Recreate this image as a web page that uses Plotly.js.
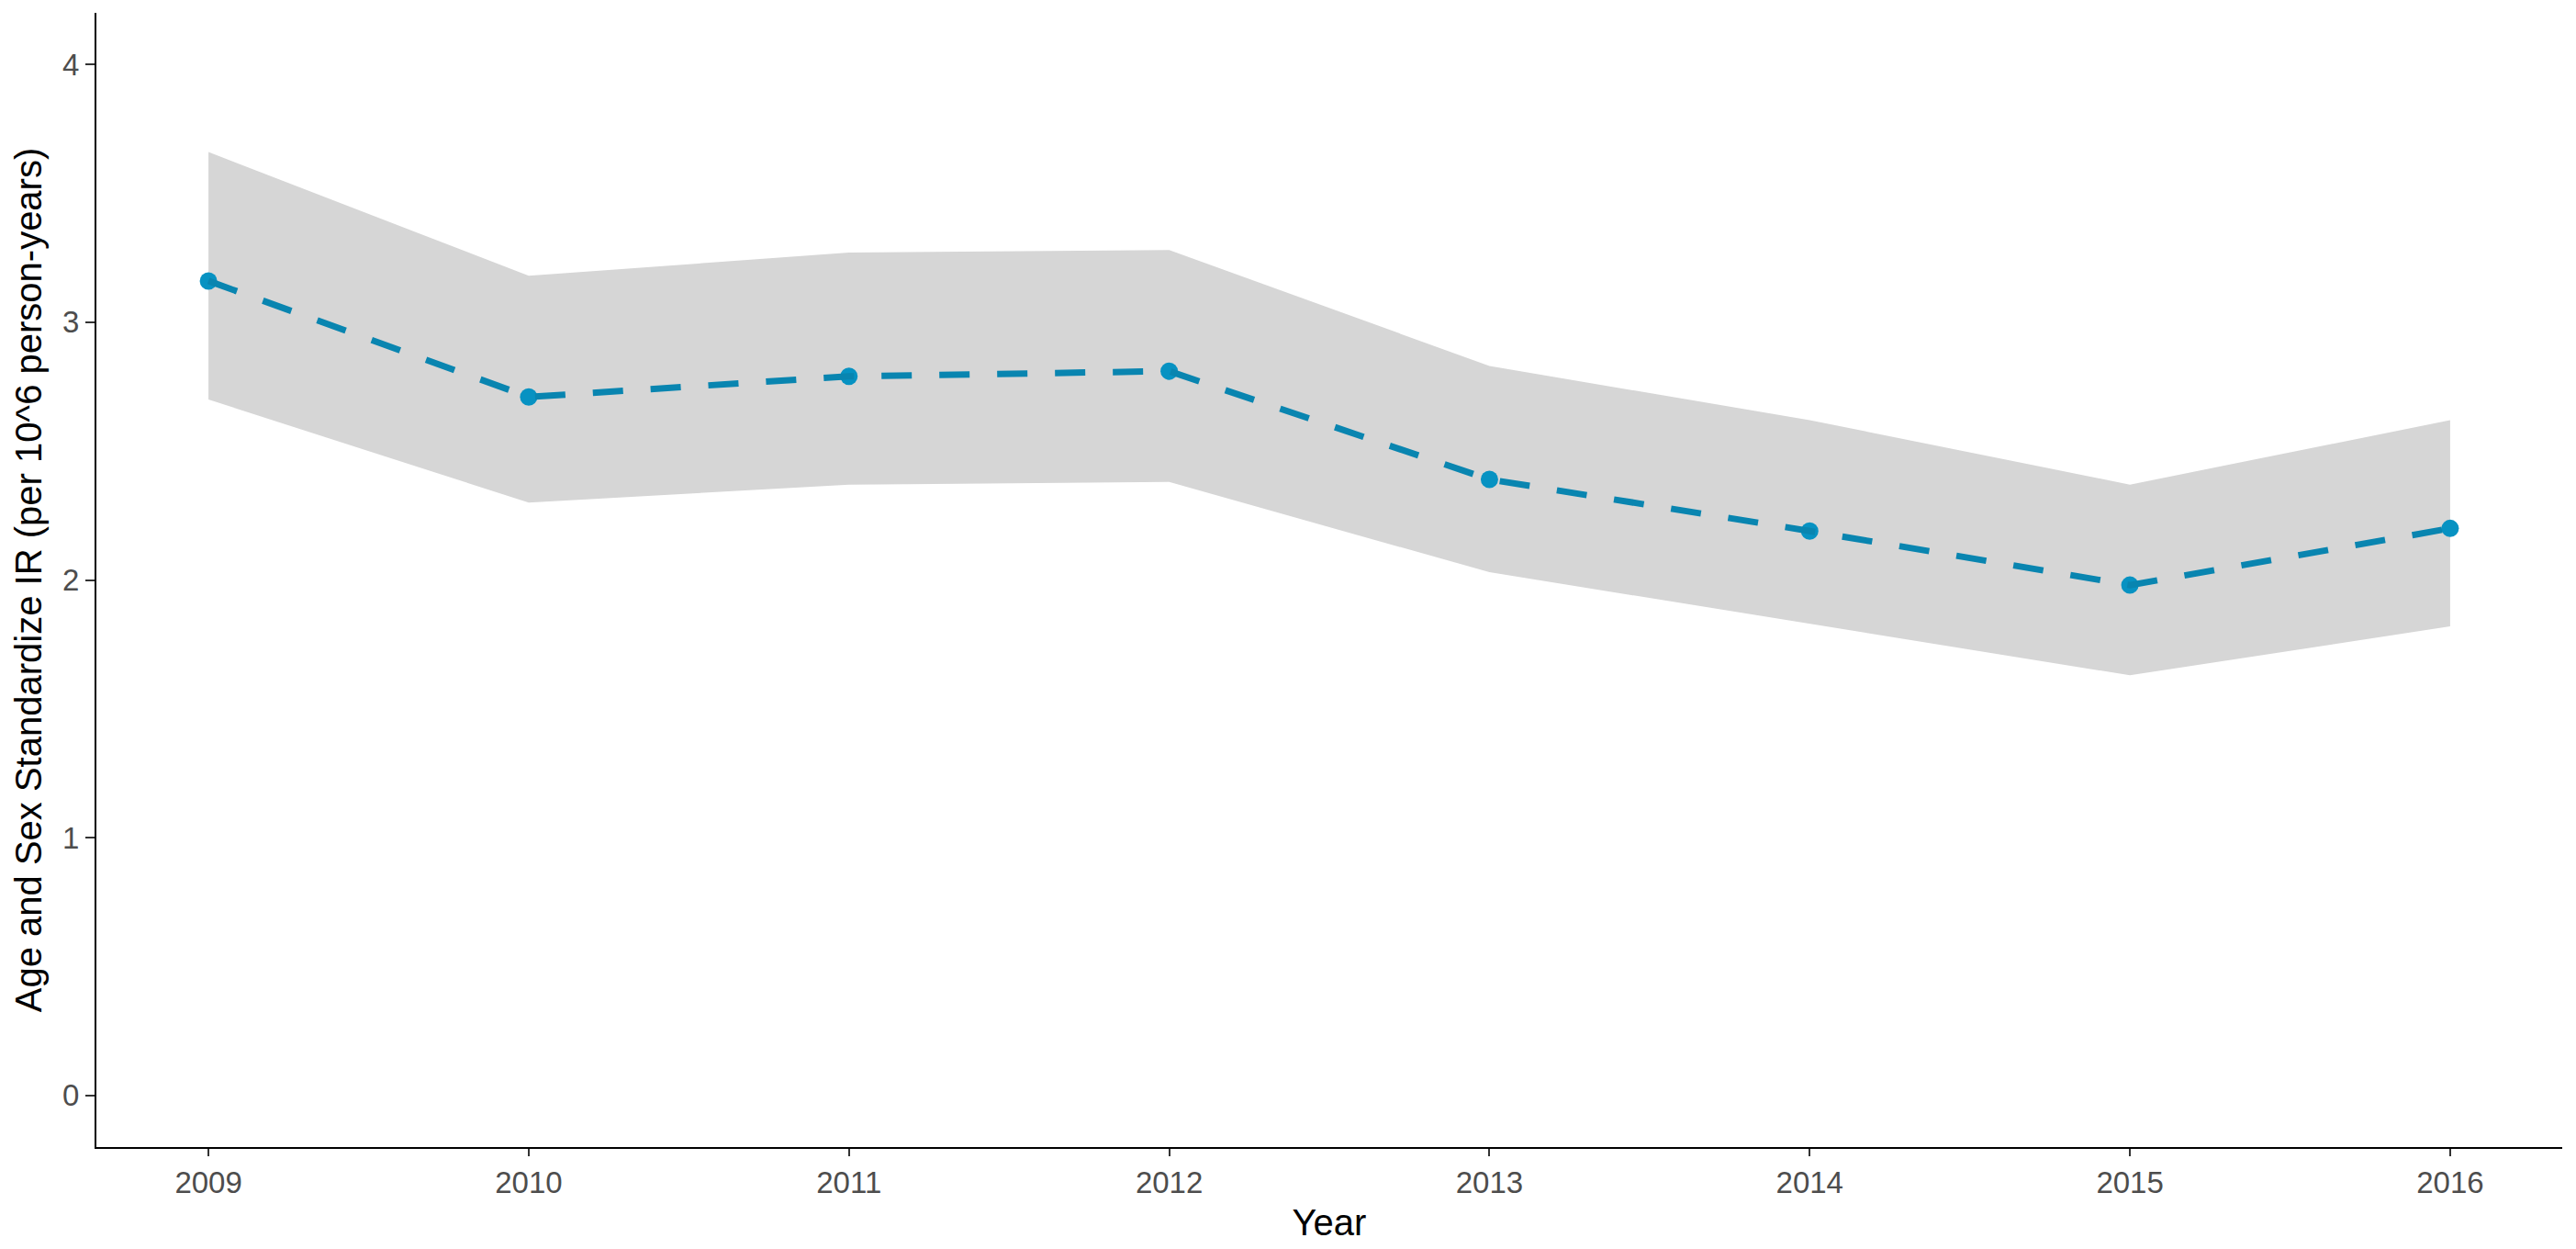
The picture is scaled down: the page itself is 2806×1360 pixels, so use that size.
<!DOCTYPE html>
<html>
<head>
<meta charset="utf-8">
<script src="https://cdn.plot.ly/plotly-3.0.1.min.js"></script>
<style>
  html, body { margin: 0; padding: 0; background: #ffffff; }
  #chart { width: 2806px; height: 1360px; }
</style>
</head>
<body>
<div id="chart"></div>
<script>
// Data
const years = [2009, 2010, 2011, 2012, 2013, 2014, 2015, 2016];
const rate  = [3.16, 2.71, 2.79, 2.81, 2.39, 2.19, 1.98, 2.20];
const upper = [3.66, 3.18, 3.27, 3.28, 2.83, 2.62, 2.37, 2.62];
const lower = [2.70, 2.30, 2.37, 2.38, 2.03, 1.83, 1.63, 1.82];
const yTicks = [0, 1, 2, 3, 4];

const lineColor = '#0985B0';
const pointColor = '#0792C2';
const ribbonColor = '#D6D6D6';

const traces = [
  {
    x: years, y: lower, type: 'scatter', mode: 'lines',
    line: { width: 0, color: 'rgba(0,0,0,0)' },
    showlegend: false, hoverinfo: 'skip'
  },
  {
    x: years, y: upper, type: 'scatter', mode: 'lines',
    fill: 'tonexty', fillcolor: ribbonColor,
    line: { width: 0, color: 'rgba(0,0,0,0)' },
    showlegend: false, hoverinfo: 'skip'
  },
  {
    x: years, y: rate, type: 'scatter', mode: 'markers',
    marker: { color: pointColor, size: 19, line: { width: 0 } },
    showlegend: false
  },
  {
    x: years, y: rate, type: 'scatter', mode: 'lines',
    line: { color: lineColor, width: 7, dash: '33px,30px' },
    showlegend: false
  }
];

const layout = {
  width: 2806,
  height: 1360,
  paper_bgcolor: '#ffffff',
  plot_bgcolor: '#ffffff',
  margin: { l: 105, r: 15, t: 14, b: 111, pad: 0 },
  showlegend: false,
  hovermode: false,
  font: { family: 'Liberation Sans, Arial, sans-serif', color: '#000000' },
  xaxis: {
    range: [2008.65, 2016.35],
    tickvals: years,
    ticktext: years.map(String),
    showgrid: false, zeroline: false,
    showline: true, linecolor: '#000000', linewidth: 2,
    ticks: 'outside', ticklen: 8, tickwidth: 2, tickcolor: '#333333',
    tickfont: { size: 33, color: '#4D4D4D', family: 'Liberation Sans, Arial, sans-serif' },
    title: { text: 'Year', font: { size: 40, color: '#000000' }, standoff: 12 }
  },
  yaxis: {
    range: [-0.2, 4.2],
    tickvals: yTicks,
    ticktext: yTicks.map(String),
    showgrid: false, zeroline: false,
    showline: true, linecolor: '#000000', linewidth: 2,
    ticks: 'outside', ticklen: 10, tickwidth: 2, tickcolor: '#333333',
    tickfont: { size: 33, color: '#4D4D4D', family: 'Liberation Sans, Arial, sans-serif' },
    title: { text: 'Age and Sex Standardize IR (per 10^6 person-years)', font: { size: 40, color: '#000000' }, standoff: 10 }
  }
};

Plotly.newPlot('chart', traces, layout, { displayModeBar: false, staticPlot: true });
</script>
</body>
</html>
